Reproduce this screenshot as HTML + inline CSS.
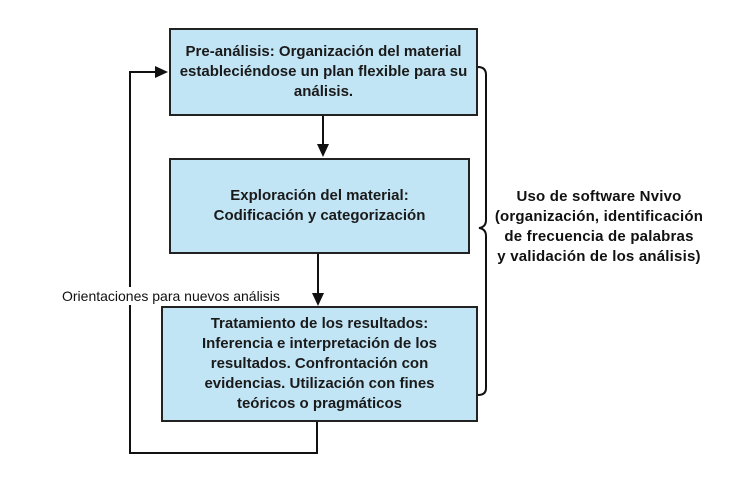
<!DOCTYPE html>
<html><head><meta charset="utf-8"><style>
body{margin:0;background:#fff;width:745px;height:487px;overflow:hidden;position:relative;font-family:"Liberation Sans",sans-serif;}
.b{position:absolute;background:#c2e5f6;border:2px solid #222;box-sizing:border-box;display:flex;align-items:center;justify-content:center;text-align:center;font-weight:bold;font-size:15px;line-height:20px;color:#1a1a1a;}
.t{position:absolute;font-weight:bold;font-size:15px;line-height:20px;text-align:center;color:#111;letter-spacing:0.2px;}
</style></head><body>
<svg width="745" height="487" style="position:absolute;left:0;top:0">
<g stroke="#111" stroke-width="2" fill="none">
<line x1="323" y1="115" x2="323" y2="146"/>
<line x1="318" y1="253" x2="318" y2="294"/>
<polyline points="317,421 317,453 130,453 130,72 156,72"/>
<path d="M478,67 Q486,67 486,75 L486,220 Q486,227 479,228 Q486,229 486,236 L486,388 Q486,395 478,395"/>
</g>
<polygon points="323,157 317,144 329,144" fill="#111"/>
<polygon points="318,306 312,293 324,293" fill="#111"/>
<polygon points="168,72 155,66 155,78" fill="#111"/>
<rect x="60" y="287" width="225" height="18" fill="#fff"/>
<text x="62" y="301" font-family="Liberation Sans, sans-serif" font-size="14" fill="#111">Orientaciones para nuevos análisis</text>
</svg>
<div class="b" style="left:169px;top:28px;width:309px;height:88px;">Pre-análisis: Organización del material<br>estableciéndose un plan flexible para su<br>análisis.</div>
<div class="b" style="left:169px;top:158px;width:301px;height:96px;">Exploración del material:<br>Codificación y categorización</div>
<div class="b" style="left:161px;top:306px;width:317px;height:116px;">Tratamiento de los resultados:<br>Inferencia e interpretación de los<br>resultados. Confrontación con<br>evidencias. Utilización con fines<br>teóricos o pragmáticos</div>
<div class="t" style="left:488px;top:187px;width:222px;">Uso de software Nvivo<br>(organización, identificación<br>de frecuencia de palabras<br>y validación de los análisis)</div>
</body></html>
